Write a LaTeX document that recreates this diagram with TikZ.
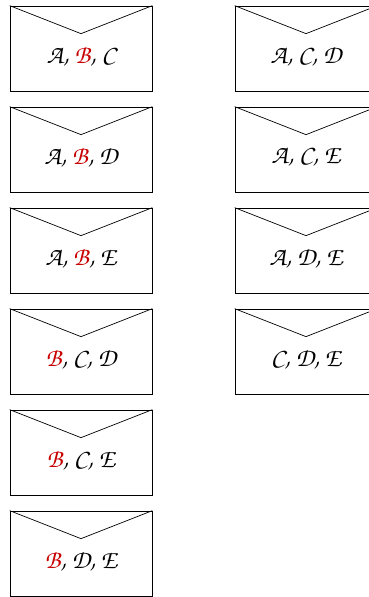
\documentclass[tikz,border=0pt]{standalone}
\usepackage[T1]{fontenc}
\usepackage{xcolor}
\usetikzlibrary{calc}

\definecolor{sealred}{RGB}{200,0,0}
\newcommand{\chanc}{\fontfamily{pzc}\fontseries{m}\fontshape{it}\selectfont}
\newcommand{\redB}{\textcolor{sealred}{B}}

\begin{document}
\begin{tikzpicture}[
  x=1pt, y=-1pt,
  envelope/.style={draw, line width=0.7pt, minimum width=142pt, minimum height=85pt, inner sep=0pt},
  flap/.style={line width=0.7pt},
  lettering/.style={font=\chanc\fontsize{26}{30}\selectfont, inner sep=0pt}
]
  \useasboundingbox (0,0) rectangle (368,597);
  \foreach \cx/\top/\txt [count=\i] in {
      81/6/{A, \redB, C}, 81/107/{A, \redB, D}, 81/208/{A, \redB, E},
      81/309/{\redB, C, D}, 81/410/{\redB, C, E}, 81/511/{\redB, D, E},
      306/6/{A, C, D}, 306/107/{A, C, E}, 306/208/{A, D, E}, 306/309/{C, D, E}} {
    \node[envelope] (env\i) at (\cx, \top+42.5) {};
    \coordinate (tip\i) at ($(env\i.north)+(0,28)$);
    \draw[flap] (env\i.north west) -- (tip\i) -- (env\i.north east);
    \node[lettering] (txt\i) at ($(env\i.center)+(0,8)$) {\txt};
  }
\end{tikzpicture}
\end{document}
